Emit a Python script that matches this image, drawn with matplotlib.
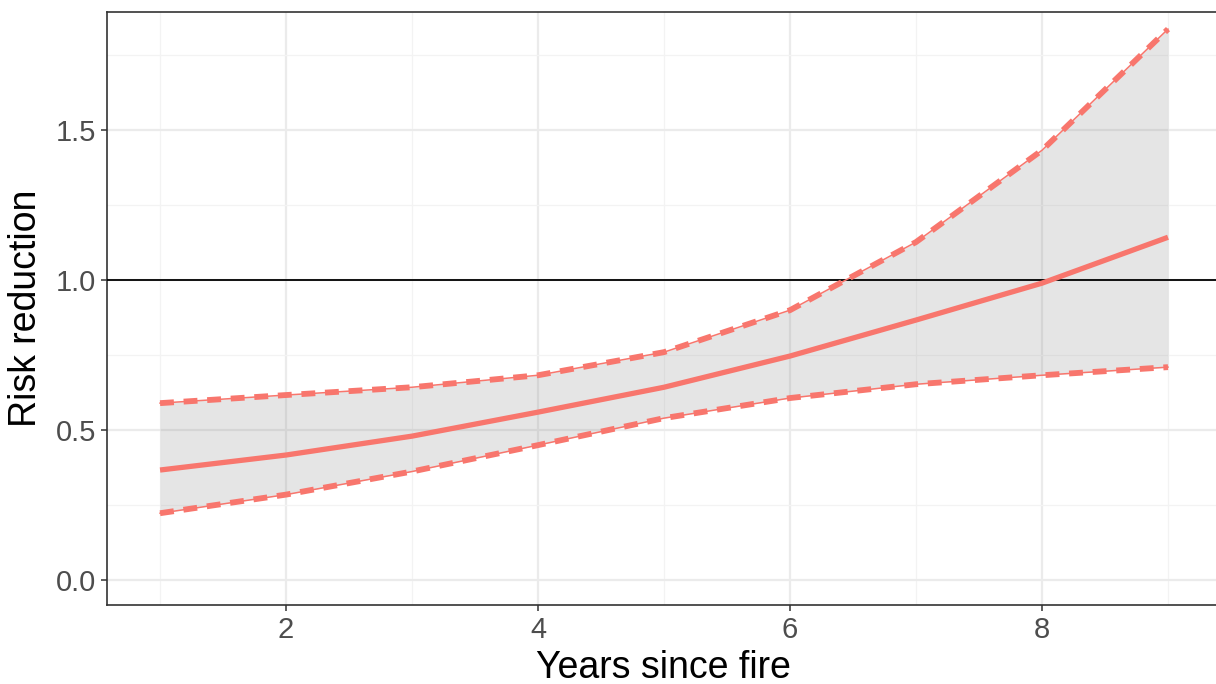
import matplotlib
matplotlib.use("Agg")
import matplotlib.pyplot as plt
from matplotlib.ticker import MultipleLocator

plt.rcParams["font.family"] = ["Liberation Sans", "DejaVu Sans"]
plt.rcParams["lines.scale_dashes"] = False

RED = "#F8766D"
TICK = "#4d4d4d"

years = [1, 2, 3, 4, 5, 6, 7, 8, 9]
mean = [0.367, 0.417, 0.480, 0.560, 0.643, 0.747, 0.867, 0.990, 1.143]
upper = [0.590, 0.617, 0.643, 0.683, 0.760, 0.900, 1.127, 1.433, 1.837]
lower = [0.223, 0.285, 0.362, 0.450, 0.540, 0.607, 0.653, 0.683, 0.710]

fig = plt.figure(figsize=(12.16, 6.84), dpi=100)
# panel runs past the right edge, as in the cropped original
ax = fig.add_axes([0.088, 0.1155, 0.915, 0.8665])

ax.set_xlim(0.579, 9.41)
ax.set_ylim(-0.083, 1.893)

ax.xaxis.set_major_locator(MultipleLocator(2))
ax.xaxis.set_minor_locator(MultipleLocator(1))
ax.yaxis.set_major_locator(MultipleLocator(0.5))
ax.yaxis.set_minor_locator(MultipleLocator(0.25))
ax.grid(which="major", color="#ebebeb", lw=1.6, zorder=0)
ax.grid(which="minor", color="#f3f3f3", lw=0.9, zorder=0)
ax.set_axisbelow(True)

ax.fill_between(years, lower, upper, color="grey", alpha=0.2, lw=0, zorder=2)
ax.axhline(1.0, color="black", lw=1.3, zorder=3)
ax.plot(years, mean, color=RED, lw=3.8, solid_capstyle="butt", zorder=4)
for band in (upper, lower):
    ax.plot(years, band, color=RED, lw=1.1, zorder=4)
    ax.plot(years, band, color=RED, lw=4.2, dashes=(10, 7),
            dash_capstyle="butt", zorder=4)

for sp in ax.spines.values():
    sp.set_color("#333333")
    sp.set_linewidth(1.2)

ax.tick_params(which="major", length=4, width=1.1, color="#333333",
               labelsize=21, labelcolor=TICK, pad=4)
ax.tick_params(which="minor", length=0)
ax.set_yticks([0, 0.5, 1.0, 1.5])
ax.set_yticklabels(["0.0", "0.5", "1.0", "1.5"])

ax.set_xlabel("Years since fire", fontsize=27, labelpad=4)
ax.set_ylabel("Risk reduction", fontsize=27, labelpad=8)

fig.savefig("out.png", facecolor="white")
